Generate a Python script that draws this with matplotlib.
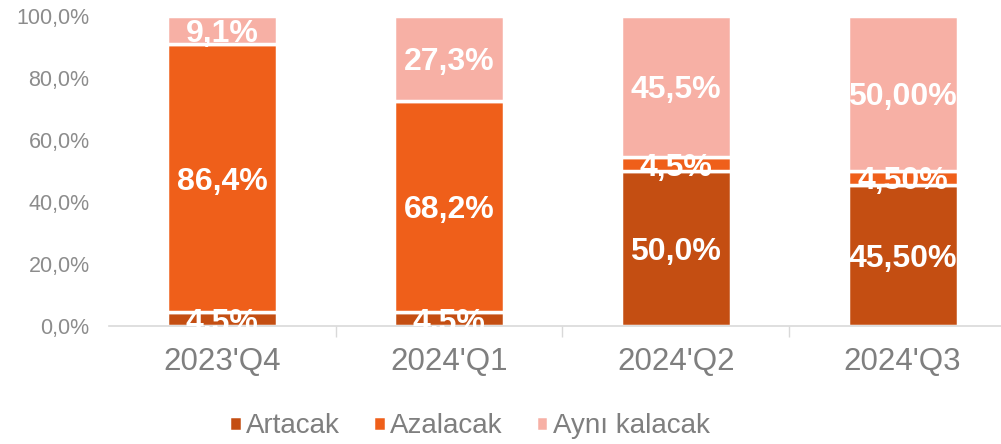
import matplotlib.pyplot as plt
import numpy as np

# Data
quarters = ["2023'Q4", "2024'Q1", "2024'Q2", "2024'Q3"]
artacak = [4.5, 4.5, 50.0, 45.5]
azalacak = [86.4, 68.2, 4.5, 4.5]
ayni = [9.1, 27.3, 45.5, 50.0]
artacak_lbl = ["4,5%", "4,5%", "50,0%", "45,50%"]
azalacak_lbl = ["86,4%", "68,2%", "4,5%", "4,50%"]
ayni_lbl = ["9,1%", "27,3%", "45,5%", "50,00%"]

plt.rcParams['font.family'] = ['Liberation Sans', 'DejaVu Sans']

fig = plt.figure(figsize=(10.01, 4.44), dpi=100)
ax = fig.add_axes([109 / 1001, 118 / 444, 1 - 109 / 1001, 310 / 444])

x = np.arange(len(quarters))
width = 0.485
series = [
    ("Artacak", artacak, artacak_lbl, "#C44E12"),
    ("Azalacak", azalacak, azalacak_lbl, "#EF5F1A"),
    ("Aynı kalacak", ayni, ayni_lbl, "#F7B0A5"),
]
bottom = np.zeros(len(quarters))
for name, vals, lbls, col in series:
    vals = np.array(vals)
    ax.bar(x, vals, width, bottom=bottom, color=col, edgecolor="white",
           linewidth=2.5, label=name)
    for xi, b, v, t in zip(x, bottom, vals, lbls):
        ax.text(xi, b + v / 2, t, ha="center", va="center_baseline",
                color="white", fontsize=23, fontweight="bold")
    bottom += vals

ax.set_ylim(0, 100)
ax.set_xlim(-0.5, 3.5 - 15 / 227)
ax.set_yticks(np.arange(0, 101, 20))
ax.set_yticklabels([f"{v},0%" for v in range(0, 101, 20)])
ax.tick_params(axis="y", length=0, pad=14, labelsize=15.5, labelcolor="#8c8c8c")

ax.set_xticks(x)
ax.set_xticklabels(quarters)
ax.tick_params(axis="x", which="major", length=0, pad=15, labelsize=22.5,
               labelcolor="#7f7f7f")
ax.set_xticks(np.arange(0.5, 3.5, 1), minor=True)
ax.tick_params(axis="x", which="minor", length=8, width=1, color="#d9d9d9")

for s in ["top", "right", "left"]:
    ax.spines[s].set_visible(False)
ax.spines["bottom"].set_color("#d9d9d9")
ax.spines["bottom"].set_linewidth(1.2)

leg = fig.legend(loc="center", bbox_to_anchor=(0.469, 0.04), ncol=3,
                 frameon=False, fontsize=20, handlelength=0.45,
                 handleheight=0.45, handletextpad=0.15, columnspacing=1.2)
for t in leg.get_texts():
    t.set_color("#7f7f7f")

fig.savefig("out.png", dpi=100)
